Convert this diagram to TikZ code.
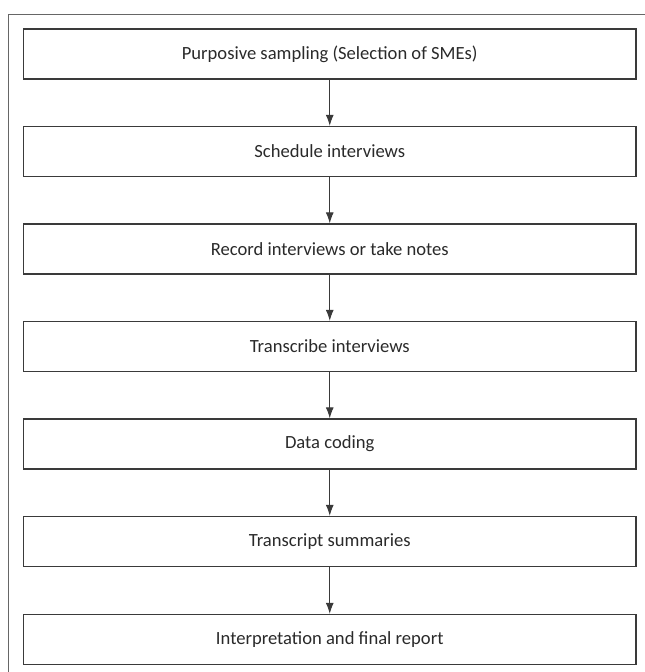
\documentclass[tikz,border=0pt]{standalone}
\usepackage{fontspec}
\setmainfont{Carlito}
\usetikzlibrary{arrows.meta}

\definecolor{linegray}{HTML}{3A3A3A}
\definecolor{textgray}{HTML}{2A2A2A}

\tikzset{
    stepbox/.style={draw=linegray, line width=1.3pt, minimum width=612.5pt,
        minimum height=50pt, inner sep=0pt, text=textgray,
        font=\fontsize{18.6}{22}\selectfont},
    flow/.style={-{Latex[length=11pt,width=8pt]}, draw=linegray, line width=1pt}
}

\begin{document}
\begin{tikzpicture}[x=1pt,y=-1pt]
    \useasboundingbox (0,0) rectangle (645,672);

    % frame, only the top and left edges show
    \draw[gray!80!black, line width=1pt] (645,14) -- (8.5,14) -- (8.5,672);

    \foreach \i/\y/\txt in {1/54/{Purposive sampling (Selection of SMEs)},
                            2/151.5/{Schedule interviews},
                            3/249/{Record interviews or take notes},
                            4/346.5/{Transcribe interviews},
                            5/444/{Data coding},
                            6/541.5/{Transcript summaries},
                            7/639.5/{Interpretation and final report}}
    {
        \node[stepbox] (s\i) at (329.75,\y) {\txt};
    }

    % arrows between steps
    \foreach \i [count=\j from 2] in {1,...,6}
    {
        \draw[flow] (s\i) -- (s\j);
    }

\end{tikzpicture}
\end{document}
